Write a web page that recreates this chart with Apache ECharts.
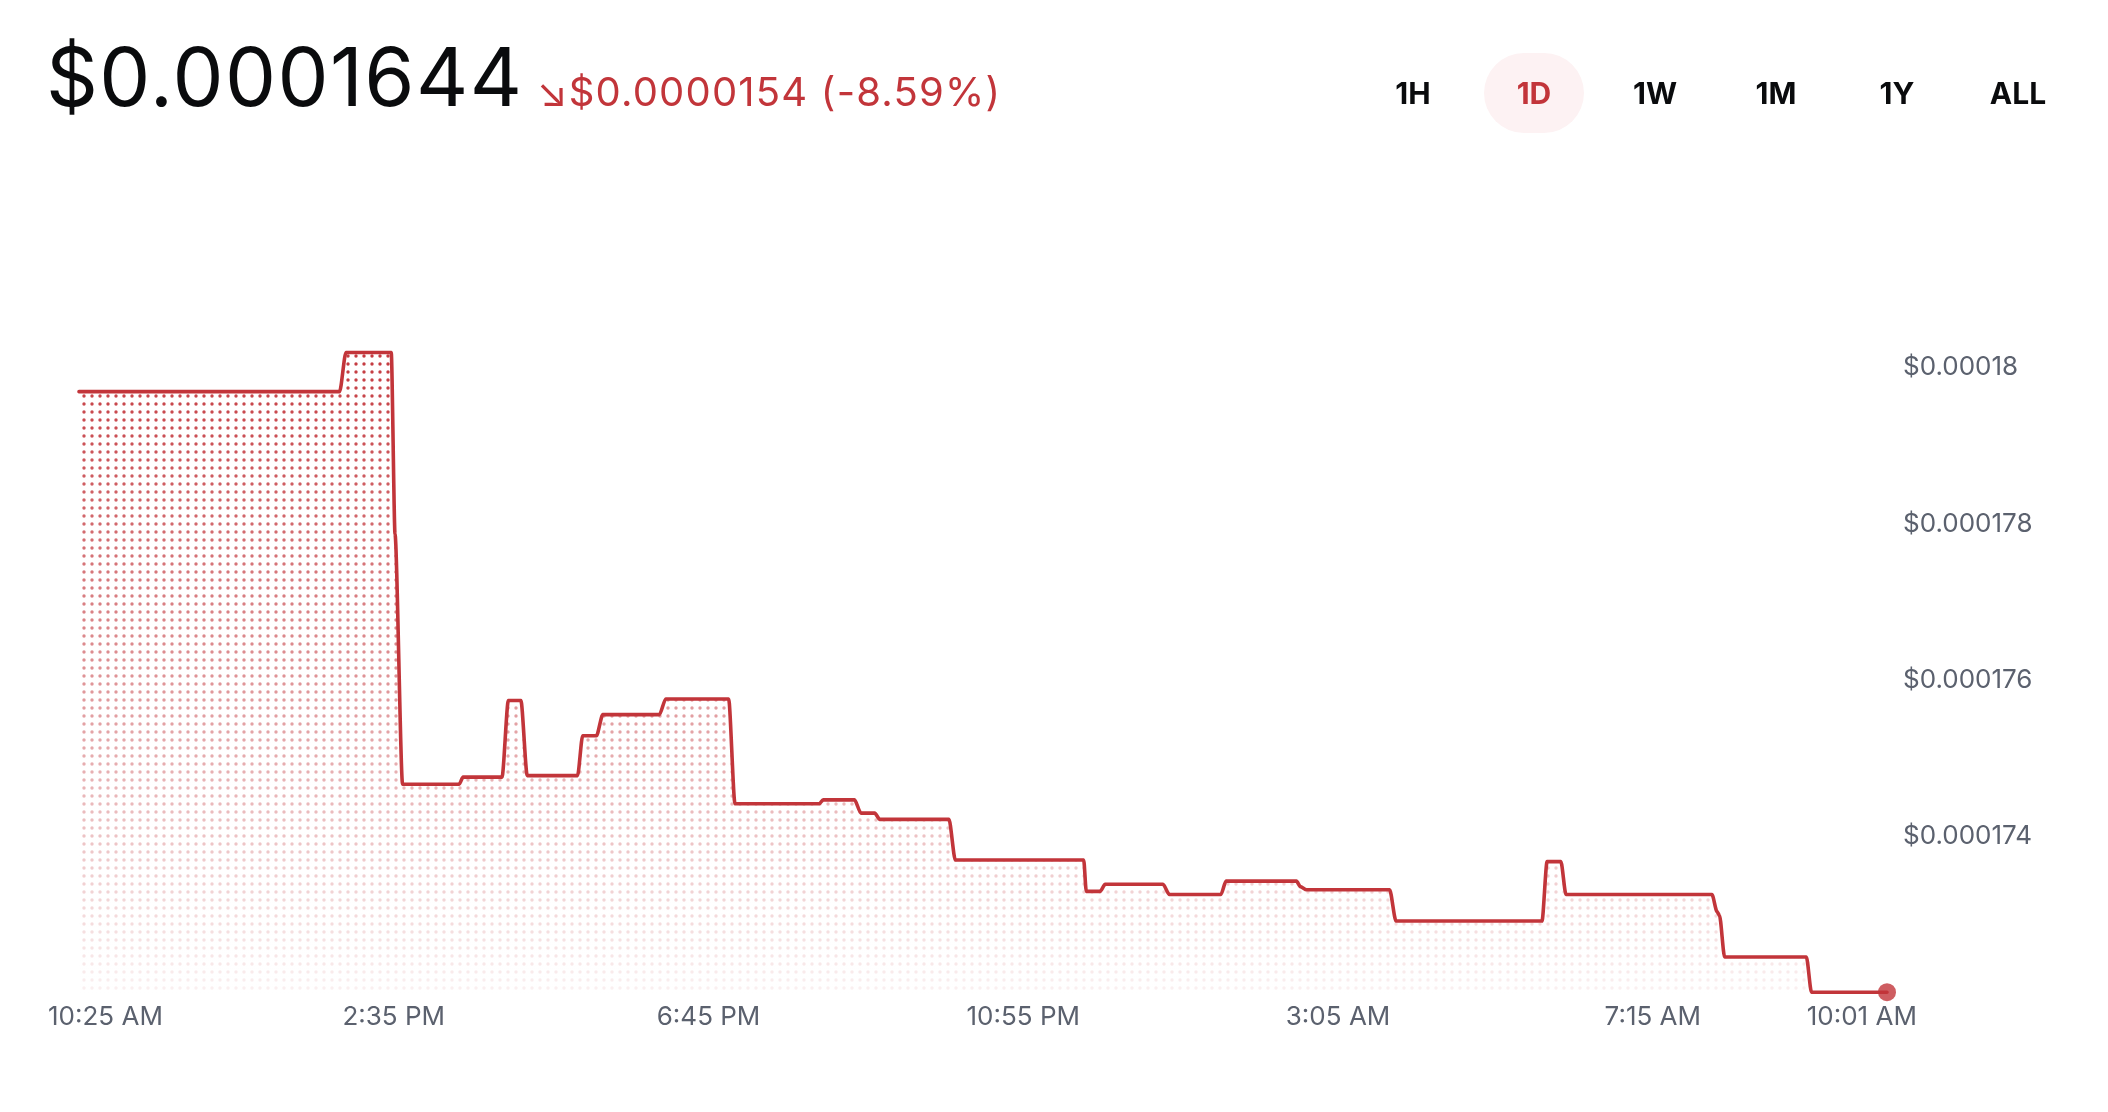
<!DOCTYPE html>
<html>
<head>
<meta charset="utf-8">
<title>1D price</title>
<script src="https://cdn.jsdelivr.net/npm/echarts@6/dist/echarts.min.js"></script>
<style>
  html, body { margin: 0; padding: 0; background: #fff; width: 2108px; height: 1112px; overflow: hidden; }
  body { font-family: Inter, "Noto Sans", sans-serif; }
  #main { position: absolute; left: 0; top: 0; width: 2108px; height: 1112px; }
  .head { position: absolute; left: 46px; top: 37px; display: flex; align-items: baseline; white-space: nowrap; }
  .price { font-size: 81px; line-height: 1; color: #0a0b0d; letter-spacing: 1.4px; }
  .change { font-size: 40px; color: #c2353a; margin-left: 13px; letter-spacing: 1.2px; }
  .ranges { position: absolute; right: 40px; top: 53px; display: flex; gap: 21px; }
  .ranges span { width: 100px; height: 80px; line-height: 80px; text-align: center; font-size: 30px; font-weight: 650; color: #0a0b0d; border-radius: 40px; }
  .ranges span.on { background: #fdf2f3; color: #c2353a; }
</style>
</head>
<body>
<div id="main"></div>
<div class="head">
  <span class="price">$0.0001644</span>
  <span class="change">↘$0.0000154 (-8.59%)</span>
</div>
<div class="ranges" id="ranges"></div>
<script>
// minutes after 10:25 AM, and the price at that moment
var times = [0, 207, 212, 248, 251, 257, 302, 305, 336, 341, 351, 356, 396, 400, 411, 416,
  461, 466, 516, 521, 588, 591, 616, 621, 632, 636, 691, 696, 798, 800, 811, 815,
  861, 866, 907, 911, 967, 970, 975, 1041, 1046, 1162, 1166, 1177, 1181, 1297, 1301,
  1303, 1307, 1372, 1376, 1436];
var prices = [0.00017969, 0.00017969, 0.00018019, 0.00018019, 0.00017787, 0.00017467,
  0.00017467, 0.00017476, 0.00017476, 0.00017574, 0.00017574, 0.00017478, 0.00017478,
  0.00017529, 0.00017529, 0.00017556, 0.00017556, 0.00017576, 0.00017576, 0.00017442,
  0.00017442, 0.00017447, 0.00017447, 0.00017430, 0.00017430, 0.00017422, 0.00017422,
  0.00017370, 0.00017370, 0.00017330, 0.00017330, 0.00017339, 0.00017339, 0.00017326,
  0.00017326, 0.00017343, 0.00017343, 0.00017336, 0.00017332, 0.00017332, 0.00017292,
  0.00017292, 0.00017368, 0.00017368, 0.00017326, 0.00017326, 0.00017304, 0.00017299,
  0.00017246, 0.00017246, 0.00017201, 0.00017201];

var xTickMinutes = [21, 250, 500, 750, 1000, 1250, 1416];
var xTickLabels = ['10:25 AM', '2:35 PM', '6:45 PM', '10:55 PM', '3:05 AM', '7:15 AM', '10:01 AM'];
var yTicks = [0.000174, 0.000176, 0.000178, 0.00018];
var yTickLabels = ['$0.000174', '$0.000176', '$0.000178', '$0.00018'];
var ranges = ['1H', '1D', '1W', '1M', '1Y', 'ALL'];
var activeRange = '1D';

var rangeBox = document.getElementById('ranges');
ranges.forEach(function (r) {
  var s = document.createElement('span');
  s.textContent = r;
  if (r === activeRange) s.className = 'on';
  rangeBox.appendChild(s);
});

var red = '#c2353a';
var grey = '#5b616e';

// dotted fill
var dot = document.createElement('canvas');
dot.width = 8; dot.height = 8;
var dctx = dot.getContext('2d');
dctx.fillStyle = '#c4393f';
dctx.beginPath();
dctx.arc(4, 4, 1.7, 0, Math.PI * 2);
dctx.fill();

var seriesData = times.map(function (t, i) { return [t, prices[i]]; });

var myChart = echarts.init(document.getElementById('main'), null, { renderer: 'canvas' });

var option = {
  animation: false,
  grid: { left: 79, right: 221, top: 211, bottom: 119, outerBoundsMode: 'none' },
  xAxis: {
    type: 'value',
    min: 0,
    max: 'dataMax',
    axisLine: { show: false },
    axisTick: { show: false },
    splitLine: { show: false },
    axisLabel: {
      customValues: xTickMinutes,
      margin: 11,
      color: grey,
      fontSize: 26,
      fontFamily: 'Inter',
      formatter: function (v) {
        var i = xTickMinutes.indexOf(v);
        return i < 0 ? '' : xTickLabels[i];
      }
    }
  },
  yAxis: {
    type: 'value',
    position: 'right',
    min: 0.000172,
    max: 0.000182,
    interval: 0.000002,
    axisLine: { show: false },
    axisTick: { show: false },
    splitLine: { show: false },
    axisLabel: {
      margin: 16,
      color: grey,
      fontSize: 26,
      fontFamily: 'Inter',
      lineHeight: 34,
      padding: [6, 0, 0, 0],
      formatter: function (v) {
        for (var i = 0; i < yTicks.length; i++) {
          if (Math.abs(v - yTicks[i]) < 1e-10) return yTickLabels[i];
        }
        return '';
      }
    }
  },
  series: [
    {
      type: 'line',
      data: seriesData,
      symbol: 'none',
      smooth: 0.25,
      smoothMonotone: 'x',
      silent: true,
      z: 1,
      lineStyle: { width: 0 },
      areaStyle: { color: { image: dot, repeat: 'repeat' }, opacity: 1 }
    },
    {
      type: 'line',
      data: seriesData,
      symbol: 'none',
      smooth: 0.25,
      smoothMonotone: 'x',
      silent: true,
      z: 2,
      lineStyle: { width: 0 },
      areaStyle: {
        opacity: 1,
        color: {
          type: 'linear', x: 0, y: 0, x2: 0, y2: 1,
          colorStops: [
            { offset: 0, color: 'rgba(255,255,255,0)' },
            { offset: 0.5, color: 'rgba(255,255,255,0.45)' },
            { offset: 1, color: 'rgba(255,255,255,0.93)' }
          ]
        }
      }
    },
    {
      type: 'line',
      data: seriesData,
      symbol: 'none',
      smooth: 0.25,
      smoothMonotone: 'x',
      silent: true,
      z: 3,
      lineStyle: { color: red, width: 3.6, join: 'round', cap: 'round' }
    },
    {
      type: 'scatter',
      data: [seriesData[seriesData.length - 1]],
      symbol: 'circle',
      symbolSize: 18,
      silent: true,
      z: 4,
      itemStyle: { color: red }
    }
  ]
};

myChart.setOption(option);
</script>
</body>
</html>
